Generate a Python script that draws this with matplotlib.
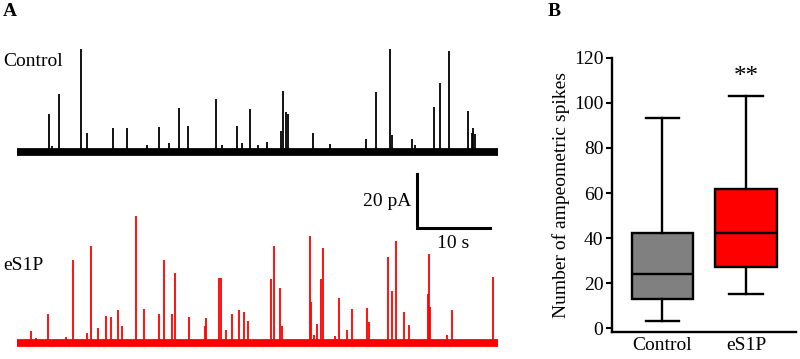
import matplotlib
matplotlib.use('Agg')
import matplotlib.pyplot as plt

plt.rcParams['font.family'] = ['Liberation Serif', 'DejaVu Serif']

# Panel A: spike times (s) and amplitudes (pA)
ctrl_t = [4.34, 4.75, 5.79, 8.73, 9.63, 13.11, 15.16, 17.85, 19.49, 20.86, 22.23, 23.47,
          27.3, 28.18, 30.23, 30.86, 31.96, 33.05, 34.29, 36.16, 36.44, 36.95, 37.16,
          40.64, 42.88, 47.9, 49.22, 51.19, 51.47, 54.21, 54.66, 57.22, 58.08, 59.27,
          61.92, 62.42, 62.56, 62.78]
ctrl_h = [14.1, 2.2, 21.5, 38.1, 7.0, 8.9, 8.9, 2.6, 9.3, 3.3, 16.3, 9.6,
          19.6, 2.6, 9.6, 3.3, 15.9, 2.6, 3.7, 7.8, 22.6, 14.8, 14.1,
          7.0, 3.0, 4.8, 22.2, 38.1, 6.3, 4.8, 2.6, 16.7, 25.6, 37.4,
          15.2, 7.0, 8.9, 6.7]

s1p_t = [1.88, 2.6, 4.29, 6.67, 7.63, 9.59, 10.1, 11.1, 12.15, 12.92, 13.84, 14.42,
         16.26, 17.4, 19.49, 20.18, 21.23, 21.64, 23.56, 25.75, 25.99, 27.77, 27.99,
         28.67, 29.49, 30.51, 31.19, 31.64, 34.79, 35.21, 36.03, 36.4, 40.14, 40.32,
         40.78, 41.23, 41.68, 42.01, 43.7, 44.25, 45.3, 45.99, 48.08, 48.26, 50.92,
         51.51, 52.05, 53.15, 53.79, 56.34, 56.53, 56.71, 59.04, 59.68, 65.38]
s1p_h = [4.4, 1.9, 10.7, 2.2, 30.7, 3.7, 35.9, 5.6, 10.0, 9.6, 12.2, 6.3,
         47.0, 12.6, 10.7, 30.7, 10.7, 25.9, 9.6, 6.3, 9.3, 24.1, 24.1,
         4.8, 10.7, 12.2, 11.5, 8.1, 23.7, 35.9, 20.4, 6.3, 39.6, 15.2,
         3.0, 7.0, 23.7, 35.2, 2.6, 16.7, 4.8, 12.6, 13.0, 7.8, 31.9,
         19.3, 37.8, 11.5, 6.7, 18.1, 33.0, 13.3, 3.0, 12.2, 24.4]

trace_len = 66.0
ctrl_offset = 70.7

# Panel B: box plot summary (number of spikes)
groups = ['Control', 'eS1P']
whislo = [3.2, 15.2]
q1 = [12.9, 27.0]
med = [24.1, 42.1]
q3 = [42.1, 61.6]
whishi = [93.1, 103.0]
box_colors = ['#808080', '#ff0000']

FS = 14

fig = plt.figure(figsize=(8, 3.59), dpi=100)

# ---- Panel A ----
axA = fig.add_axes([17 / 800, 0, 481 / 800, 1])
axA.set_xlim(0, trace_len)
axA.set_ylim(-5.9, 127.1)
axA.axis('off')

for base, ts, hs, col in [(ctrl_offset, ctrl_t, ctrl_h, 'black'), (0, s1p_t, s1p_h, '#ff0000')]:
    axA.plot([0, trace_len], [base, base], color=col, lw=5.6, solid_capstyle='butt')
    axA.vlines(ts, base, [base + h for h in hs], color=col, lw=1.3)

# scale bar
sb_x, sb_y = 54.9, 42.5
axA.plot([sb_x, sb_x, sb_x + 10], [sb_y + 20, sb_y, sb_y], color='black', lw=2.2,
         solid_joinstyle='miter')
axA.text(sb_x - 0.8, sb_y + 10, '20 pA', ha='right', va='center', fontsize=FS)
axA.text(sb_x + 5, sb_y - 2.5, '10 s', ha='center', va='top', fontsize=FS)

fig.text(3 / 800, 1 - 61 / 359, 'Control', ha='left', va='center', fontsize=FS)
fig.text(3 / 800, 1 - 266 / 359, 'eS1P', ha='left', va='center', fontsize=FS)
fig.text(3 / 800, 1 - 11 / 359, 'A', ha='left', va='center', fontsize=FS, fontweight='bold')
fig.text(548 / 800, 1 - 11 / 359, 'B', ha='left', va='center', fontsize=FS, fontweight='bold')

# ---- Panel B ----
axB = fig.add_axes([611.7 / 800, 27.3 / 359, 184.3 / 800, 274 / 359])
stats = []
for i in range(len(groups)):
    stats.append(dict(label=groups[i], whislo=whislo[i], q1=q1[i], med=med[i],
                      q3=q3[i], whishi=whishi[i], fliers=[]))
lw = 1.7
bp = axB.bxp(stats, positions=[1, 2], widths=0.74, capwidths=0.4, patch_artist=True,
             showfliers=False,
             boxprops=dict(linewidth=lw, edgecolor='black'),
             medianprops=dict(color='black', linewidth=lw),
             whiskerprops=dict(color='black', linewidth=lw),
             capprops=dict(color='black', linewidth=lw))
for patch, c in zip(bp['boxes'], box_colors):
    patch.set_facecolor(c)

axB.set_xlim(0.392, 2.599)
axB.set_ylim(-1.5, 120)
axB.set_yticks(range(0, 121, 20))
axB.spines['top'].set_visible(False)
axB.spines['right'].set_visible(False)
axB.spines['left'].set_bounds(-1.5, 120)
for s in ['left', 'bottom']:
    axB.spines[s].set_linewidth(1.7)
axB.tick_params(axis='y', direction='out', length=4, width=1.5, labelsize=FS, pad=2)
axB.tick_params(axis='x', length=0, labelsize=FS, pad=4)
axB.set_ylabel('Number of ampeometric spikes', fontsize=FS, labelpad=3)
axB.text(2.0, 111.6, '**', ha='center', va='center', fontsize=18)

fig.savefig('out.png', dpi=100)
